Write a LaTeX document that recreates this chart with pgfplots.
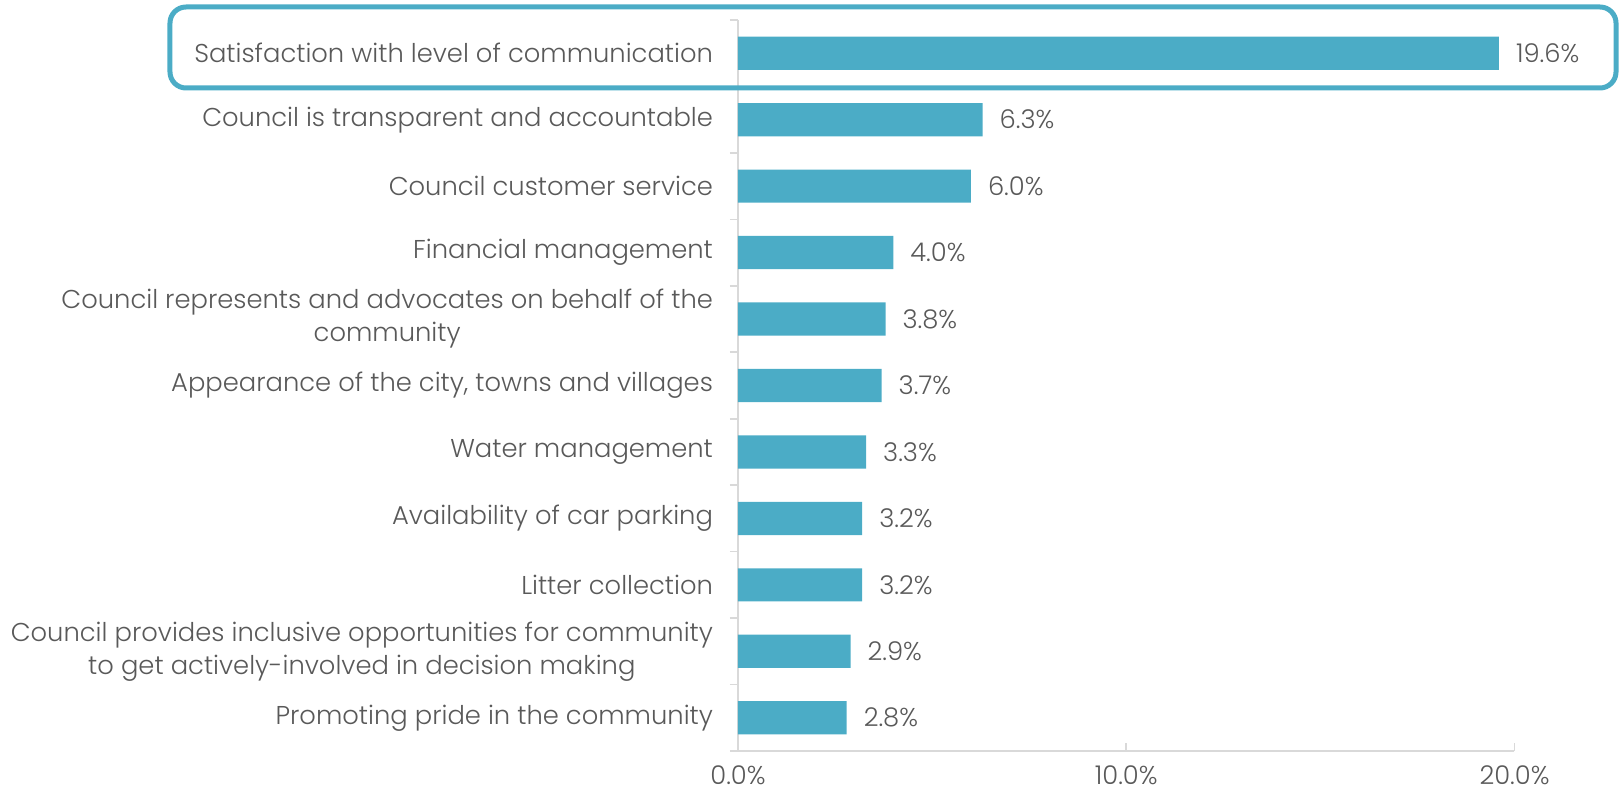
\documentclass[border=0pt]{standalone}
\usepackage{fontspec}
\setmainfont{Poppins}[UprightFont=* Light]
\usepackage{pgfplots}
\pgfplotsset{compat=1.18}
\definecolor{barc}{HTML}{4BACC6}
\definecolor{txt}{HTML}{595959}
\definecolor{axc}{HTML}{D9D9D9}
\pgfplotstableread{
y v
10 19.6
9 6.3
8 6.0
7 4.0
6 3.8
5 3.7
4 3.3
3 3.2
2 3.2
1 2.9
0 2.8
}\datatab
\begin{document}
\begin{tikzpicture}
\useasboundingbox (-369pt,-21pt) rectangle (441.5pt,375.5pt);
\begin{axis}[at={(0,0)}, anchor=south west, scale only axis,
  width=388.25pt, height=365.5pt,
  xbar, bar width=0.5,
  xmin=0, xmax=20, ymin=-0.5, ymax=10.5,
  axis x line=bottom, axis y line=left,
  axis line style={-, draw=axc, line width=0.8pt},
  tick align=outside,
  major tick length=4pt, minor tick length=4pt,
  tick style={draw=axc, line width=0.8pt},
  every major x tick/.append style={yshift=4pt},
  every major y tick/.append style={draw=none},
  xtick={0,10,20},
  ytick={0,...,10},
  minor ytick={-0.5,0.5,...,10.5},
  yticklabels={
    Promoting pride in the community,
    {Council provides inclusive opportunities for community\\to get actively-involved in decision making},
    Litter collection,
    Availability of car parking,
    Water management,
    {Appearance of the city, towns and villages},
    {Council represents and advocates on behalf of the\\community},
    Financial management,
    Council customer service,
    Council is transparent and accountable,
    Satisfaction with level of communication},
  /pgf/number format/assume math mode=true,
  xticklabel={\pgfmathprintnumber[fixed,fixed zerofill,precision=1]{\tick}\%},
  font=\fontsize{12.9}{16.5}\selectfont,
  every tick label/.append style={text=txt},
  yticklabel style={align=center, xshift=-5pt},
  xticklabel style={inner sep=1pt, yshift=-2pt},
  nodes near coords={\pgfmathprintnumber[fixed,fixed zerofill,precision=1]{\pgfplotspointmeta}\%},
  nodes near coords style={anchor=west, xshift=5pt, text=txt},
]
\addplot[fill=barc, draw=none] table[x=v, y=y] {\datatab};
\end{axis}
\draw[barc, line width=2.5pt, rounded corners=8pt] (-284pt,331.5pt) rectangle (439pt,372pt);
\end{tikzpicture}
\end{document}
